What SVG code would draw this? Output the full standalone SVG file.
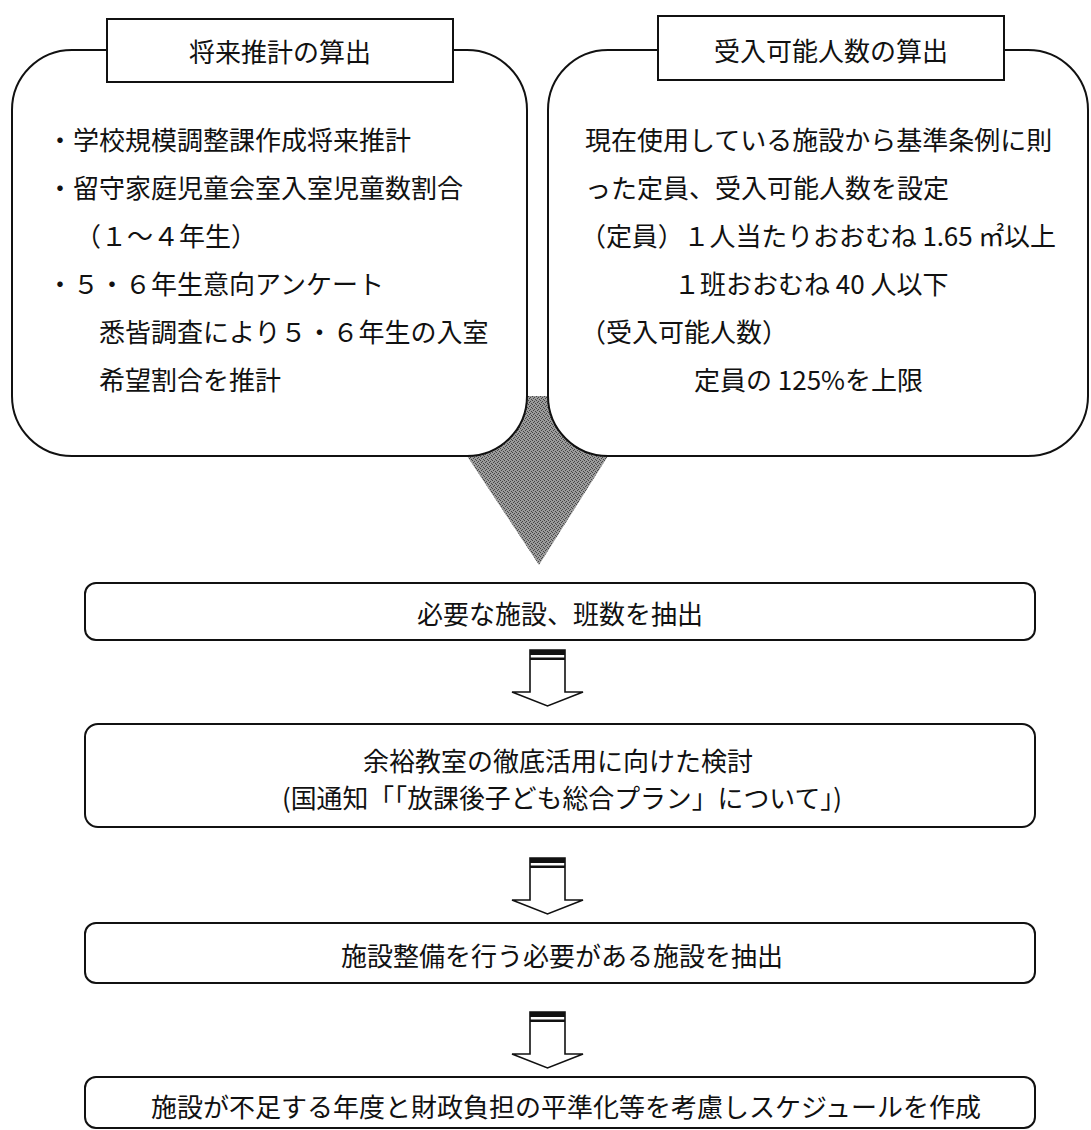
<svg xmlns="http://www.w3.org/2000/svg" width="1091" height="1130" viewBox="0 0 1091 1130">
<style>
text{font-family:"Noto Sans CJK JP","Noto Sans",sans-serif;font-size:26px;fill:#111;dominant-baseline:central}
.box{fill:none;stroke:#111;stroke-width:2}
.tbox{fill:#fff;stroke:#111;stroke-width:2}
.mid{text-anchor:middle}
.arr{fill:#fff;stroke:#111;stroke-width:1.6;stroke-linejoin:miter}
</style>
<defs>
<pattern id="dither" x="0" y="0" width="4" height="4" patternUnits="userSpaceOnUse">
<rect width="4" height="4" fill="#9c9c9c"/>
<rect x="0" y="0" width="1" height="1" fill="#444"/>
<rect x="2" y="1" width="1" height="1" fill="#444"/>
<rect x="1" y="2" width="1" height="1" fill="#444"/>
<rect x="3" y="3" width="1" height="1" fill="#444"/>
</pattern>
<g id="blockArrow">
<polygon class="arr" points="530,0 565,0 565,42 583,42 547.5,56 512,42 530,42"/>
<rect x="530" y="0" width="35" height="5" fill="#111"/>
<rect x="530" y="7.5" width="35" height="2.5" fill="#111"/>
</g>
</defs>
<rect x="0" y="0" width="1091" height="1130" fill="#fff"/>

<g id="merge-arrow">
<path d="M527,396 L548,396 A60,60 0 0 0 608,456 L539,565 L467,456 A60,60 0 0 0 527,396 Z" fill="url(#dither)"/>
</g>

<g id="node-future">
<rect class="box" x="12" y="50" width="515" height="406" rx="60" ry="60"/>
<rect class="tbox" x="107" y="19" width="346" height="63"/>
<text class="mid" x="280" y="50">将来推計の算出</text>
<text x="47" y="138">・学校規模調整課作成将来推計</text>
<text x="47" y="186">・留守家庭児童会室入室児童数割合</text>
<text x="75" y="234">（１～４年生）</text>
<text x="47" y="282">・５・６年生意向アンケート</text>
<text x="99" y="330">悉皆調査により５・６年生の入室</text>
<text x="99" y="378">希望割合を推計</text>
</g>

<g id="node-capacity">
<rect class="box" x="548" y="50" width="540" height="406" rx="60" ry="60"/>
<rect class="tbox" x="658" y="16" width="346" height="64"/>
<text class="mid" x="831" y="49">受入可能人数の算出</text>
<text x="585" y="138">現在使用している施設から基準条例に則</text>
<text x="585" y="186">った定員、受入可能人数を設定</text>
<text x="580" y="234" textLength="476" lengthAdjust="spacing">（定員）１人当たりおおむね 1.65 ㎡以上</text>
<text x="674" y="282">１班おおむね 40 人以下</text>
<text x="580" y="330">（受入可能人数）</text>
<text x="694" y="378">定員の 125%を上限</text>
</g>

<g id="connectors">
<use href="#blockArrow" transform="translate(0,650)"/>
<use href="#blockArrow" transform="translate(0,858)"/>
<use href="#blockArrow" transform="translate(0,1012)"/>
</g>

<g id="node-extract">
<rect class="box" x="85" y="583" width="950" height="57" rx="11" ry="11"/>
<text class="mid" x="560" y="612">必要な施設、班数を抽出</text>
</g>

<g id="node-study">
<rect class="box" x="85" y="724" width="950" height="103" rx="13" ry="13"/>
<text class="mid" x="558" y="759">余裕教室の徹底活用に向けた検討</text>
<text class="mid" x="562" y="796" textLength="560" lengthAdjust="spacingAndGlyphs">(国通知「「放課後子ども総合プラン」について」)</text>
</g>

<g id="node-facility">
<rect class="box" x="85" y="923" width="950" height="60" rx="11" ry="11"/>
<text class="mid" x="562" y="954">施設整備を行う必要がある施設を抽出</text>
</g>

<g id="node-schedule">
<rect class="box" x="85" y="1077" width="950" height="51" rx="11" ry="11"/>
<text class="mid" x="566" y="1105">施設が不足する年度と財政負担の平準化等を考慮しスケジュールを作成</text>
</g>
</svg>
